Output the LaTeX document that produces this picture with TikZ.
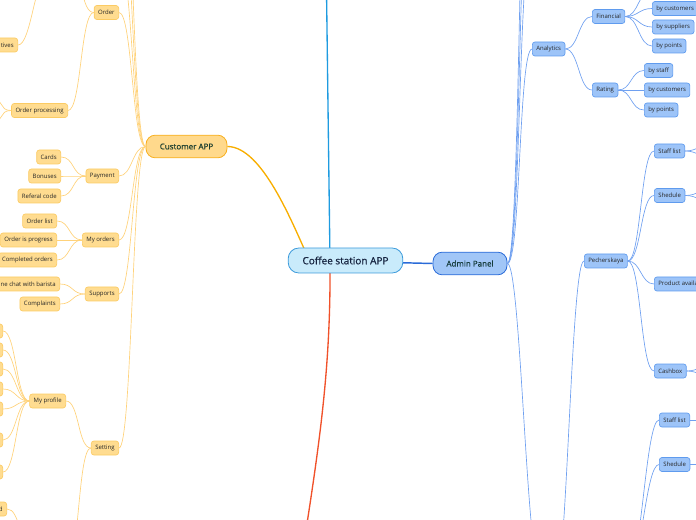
\documentclass[tikz,border=0pt]{standalone}
\usepackage{fontspec}
\setmainfont{Open Sans}
\newfontfamily\heavyfont{Open Sans}[FakeBold=0.7]
\usepackage[dvipsnames]{xcolor}
\usetikzlibrary{calc,positioning}

\definecolor{rootfill}{HTML}{C9EBFB}
\definecolor{rootline}{HTML}{3D9BDB}
\definecolor{rootink}{HTML}{15233F}
\definecolor{adminfill}{HTML}{A1C6F7}
\definecolor{adminline}{HTML}{2A6BD8}
\definecolor{adminink}{HTML}{163C3C}
\definecolor{custfill}{HTML}{FFD98C}
\definecolor{custline}{HTML}{F8B020}
\definecolor{custink}{HTML}{1F4030}
\definecolor{yfill}{HTML}{FFDC90}
\definecolor{yline}{HTML}{FBCB64}
\definecolor{ytwigc}{HTML}{FFD27A}
\definecolor{bfill}{HTML}{9DC4F8}
\definecolor{bline}{HTML}{5F9BEE}
\definecolor{btwigc}{HTML}{6FA0F0}
\definecolor{topblue}{HTML}{1E9BE0}
\definecolor{topred}{HTML}{F0512A}
\definecolor{toporange}{HTML}{F8AE00}

\tikzset{
  root/.style={
    shape = rectangle,
    rounded corners = 8pt,
    draw = rootline,
    fill = rootfill,
    line width = 0.6pt,
    minimum width = 86pt,
    minimum height = 18.75pt,
    text = rootink,
    font = \heavyfont\fontsize{7.5}{9}\selectfont
  },
}
\tikzset{
  topic/.style={
    shape = rectangle,
    rounded corners = 7pt,
    line width = 0.6pt,
    minimum height = 17pt,
    font = \heavyfont\fontsize{6}{7}\selectfont
  },
}
\tikzset{
  yleaf/.style={
    shape = rectangle,
    rounded corners = 2pt,
    draw = yline,
    fill = yfill,
    line width = 0.5pt,
    inner xsep = 3pt,
    inner ysep = 0pt,
    minimum height = 10.5pt,
    text = black!85,
    font = \fontsize{4.5}{5}\selectfont
  },
  bleaf/.style={
    yleaf,
    draw = bline,
    fill = bfill
  },
  cutoff/.style={
    text width = #1,
    align = right
  },
  ytwig/.style={
    draw = ytwigc,
    line width = 0.5pt,
    out = 180,
    in = 0,
    distance = 10pt
  },
  btwig/.style={
    draw = btwigc,
    line width = 0.5pt,
    out = 0,
    in = 180,
    distance = 10pt
  }
}

\begin{document}
\begin{tikzpicture}[x=0.75pt, y=0.75pt]
    \useasboundingbox (0,0) rectangle (696,-520);
    \clip (0,0) rectangle (696,-520);
    % main branches
    \coordinate (hub) at (330,-261);
    \coordinate (hubo) at (310,-262);
    \coordinate (bluetop) at (326.5,10);
    \coordinate (redbot) at (295,-600);
    \node[topic, draw=adminline, fill=adminfill, text=adminink, minimum width=55.5pt] (admin) at (470,-263.5) {Admin Panel};
    \node[topic, draw=custline, fill=custfill, text=custink, minimum width=60.75pt] (cust) at (186.5,-146.5) {Customer APP};
    \draw[topblue, line width=1pt] (hub) -- (bluetop);
    \draw[topred, line width=1pt] (hub) .. controls (331,-380) and (317,-460) .. (redbot);
    \draw[toporange, line width=1pt] (cust.east) .. controls (262,-146.5) and (292,-222) .. (hubo);
    \draw[adminline, line width=1.1pt] (hub) -- (admin.west);
    \node[root] (root) at (345.5,-260.5) {Coffee station APP};

    % customer side
    \node[yleaf, anchor=east] (order) at (119,-12.5) {Order};
    \node[yleaf, anchor=east, cutoff=40pt] (tives) at (18,-45) {tives};
    \node[yleaf, anchor=east] (process) at (68,-110.5) {Order processing};
    \node[yleaf, anchor=east] (payment) at (119,-176) {Payment};
    \node[yleaf, anchor=east] (cards) at (61,-157) {Cards};
    \node[yleaf, anchor=east] (bonuses) at (61,-176) {Bonuses};
    \node[yleaf, anchor=east] (referal) at (61,-196) {Referal code};
    \node[yleaf, anchor=east] (myorders) at (119,-240) {My orders};
    \node[yleaf, anchor=east] (orderlist) at (57,-221) {Order list};
    \node[yleaf, anchor=east] (progress) at (57,-240) {Order is progress};
    \node[yleaf, anchor=east] (completed) at (57,-260) {Completed orders};
    \node[yleaf, anchor=east] (supports) at (119,-294) {Supports};
    \node[yleaf, anchor=east] (chat) at (60,-284) {Online chat with barista};
    \node[yleaf, anchor=east] (complaints) at (60,-304) {Complaints};
    \node[yleaf, anchor=east] (setting) at (119,-448) {Setting};
    \node[yleaf, anchor=east] (profile) at (66,-401) {My profile};
    \foreach \y [count=\i] in {331,350,369,389,409,440,472}
        \node[yleaf, anchor=east, minimum width=30pt] (prof\i) at (3,-\y) {};
    \node[yleaf, anchor=east, cutoff=30pt] (dnode) at (7,-509) {d};

    \coordinate (ctop1) at (119,40);
    \coordinate (ctop2) at (119,110);
    \coordinate (ctop3) at (119,190);
    \coordinate (ordtop) at (70,30);
    \coordinate (tivespar) at (48,25);
    \coordinate (prockid1) at (-8,-99);
    \coordinate (prockid2) at (-8,-122);
    \coordinate (setbot) at (66,-570);
    \coordinate (dpar) at (32,-545);

    \foreach \kid in {ctop1,ctop2,ctop3}
        \draw[ytwig] (cust.west) to (\kid);
    \foreach \kid in {order,payment,myorders,supports,setting}
        \draw[ytwig] (cust.west) to (\kid.east);
    \draw[ytwig] (order.west) to (ordtop);
    \draw[ytwig] (order.west) to (process.east);
    \draw[ytwig] (tivespar) to (tives.east);
    \draw[ytwig] (process.west) to (prockid1);
    \draw[ytwig] (process.west) to (prockid2);
    \foreach \kid in {cards,bonuses,referal}
        \draw[ytwig] (payment.west) to (\kid.east);
    \foreach \kid in {orderlist,progress,completed}
        \draw[ytwig] (myorders.west) to (\kid.east);
    \foreach \kid in {chat,complaints}
        \draw[ytwig] (supports.west) to (\kid.east);
    \draw[ytwig] (setting.west) to (profile.east);
    \draw[ytwig] (setting.west) to (setbot);
    \foreach \i in {1,...,7}
        \draw[ytwig] (profile.west) to (prof\i.east);
    \draw[ytwig] (dpar) to (dnode.east);

    % admin side
    \node[bleaf, anchor=west] (analytics) at (532,-49) {Analytics};
    \node[bleaf, anchor=west] (financial) at (592,-16.5) {Financial};
    \node[bleaf, anchor=west] (rating) at (592,-90) {Rating};
    \node[bleaf, anchor=west] (fincust) at (652,-8.5) {by customers};
    \node[bleaf, anchor=west] (finsupp) at (652,-27) {by suppliers};
    \node[bleaf, anchor=west] (finpoints) at (652,-46) {by points};
    \node[bleaf, anchor=west] (ratstaff) at (644,-70.5) {by staff};
    \node[bleaf, anchor=west] (ratcust) at (644,-90) {by customers};
    \node[bleaf, anchor=west] (ratpoints) at (644,-110) {by points};
    \node[bleaf, anchor=west] (pech) at (584,-261) {Pecherskaya};
    \node[bleaf, anchor=west] (staff) at (654,-151) {Staff list};
    \node[bleaf, anchor=west] (shedule) at (654,-195.5) {Shedule};
    \node[bleaf, anchor=west] (product) at (654,-284) {Product availability};
    \node[bleaf, anchor=west] (cashbox) at (654,-371) {Cashbox};
    \node[bleaf, anchor=west] (staffb) at (659,-420) {Staff list};
    \node[bleaf, anchor=west] (sheduleb) at (659,-464.5) {Shedule};

    \coordinate (atop1) at (532,60);
    \coordinate (atop2) at (532,150);
    \coordinate (atop3) at (532,250);
    \coordinate (abot) at (540,-570);
    \coordinate (pechpar) at (554,-590);
    \coordinate (grouppar) at (628,-570);
    \coordinate (fintop) at (652,10.5);

    \foreach \kid in {atop1,atop2,atop3,abot}
        \draw[btwig] (admin.east) to (\kid);
    \draw[btwig] (admin.east) to (analytics.west);
    \draw[btwig] (analytics.east) to (financial.west);
    \draw[btwig] (analytics.east) to (rating.west);
    \draw[btwig] (financial.east) to (fintop);
    \foreach \kid in {fincust,finsupp,finpoints}
        \draw[btwig] (financial.east) to (\kid.west);
    \foreach \kid in {ratstaff,ratcust,ratpoints}
        \draw[btwig] (rating.east) to (\kid.west);
    \draw[btwig] (pechpar) to (pech.west);
    \foreach \kid in {staff,shedule,product,cashbox}
        \draw[btwig] (pech.east) to (\kid.west);
    \foreach \kid in {staff,shedule,cashbox} {
        \draw[btwig] (\kid.east) to ([shift={(27,7)}]\kid.east);
        \draw[btwig] (\kid.east) to ([shift={(27,-7)}]\kid.east);
    }
    \draw[btwig] (grouppar) to (staffb.west);
    \draw[btwig] (grouppar) to (sheduleb.west);
    \draw[btwig] (staffb.east) -- ++(30,0);
    \draw[btwig] (sheduleb.east) -- ++(30,0);
\end{tikzpicture}
\end{document}
